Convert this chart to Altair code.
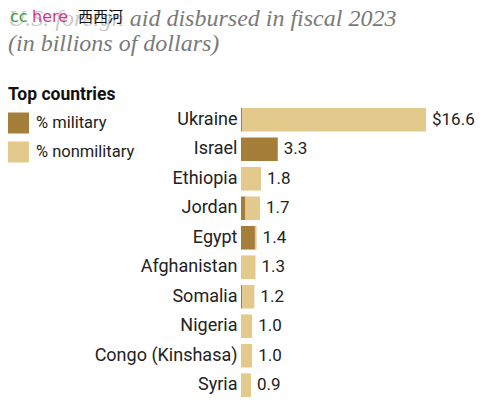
import altair as alt
import pandas as pd

countries = ["Ukraine", "Israel", "Ethiopia", "Jordan", "Egypt", "Afghanistan",
             "Somalia", "Nigeria", "Congo (Kinshasa)", "Syria"]
totals = [16.6, 3.3, 1.8, 1.7, 1.4, 1.3, 1.2, 1.0, 1.0, 0.9]
military = [0.1, 3.3, 0.0, 0.4, 1.25, 0.0, 0.1, 0.0, 0.0, 0.0]
value_labels = ["$16.6", "3.3", "1.8", "1.7", "1.4", "1.3", "1.2", "1.0", "1.0", "0.9"]
types = ["% military", "% nonmilitary"]
colors = ["#a57f3a", "#e3c98c"]
title_lines = ["U.S. foreign aid disbursed in fiscal 2023", "(in billions of dollars)"]

rows = []
for c, t, m in zip(countries, totals, military):
    rows.append({"country": c, "type": types[0], "value": m, "ord": 0})
    rows.append({"country": c, "type": types[1], "value": round(t - m, 3), "ord": 1})
df = pd.DataFrame(rows)
df_tot = pd.DataFrame({"country": countries, "total": totals, "label": value_labels})

FONT = "Roboto"

yenc = alt.Y("country:N", sort=countries, title=None,
             scale=alt.Scale(paddingInner=0.2, paddingOuter=0),
             axis=alt.Axis(domain=False, ticks=False, labelPadding=4, labelFont=FONT,
                           labelFontSize=18, labelColor="#222", labelLimit=300))
xscale = alt.Scale(domain=[0, 16.6], nice=False, zero=True)

bars = alt.Chart(df).mark_bar().encode(
    y=yenc,
    x=alt.X("value:Q", stack="zero", scale=xscale, axis=None),
    color=alt.Color("type:N", scale=alt.Scale(domain=types, range=colors),
                    legend=alt.Legend(orient="none", legendX=-233, legendY=-22,
                                      title="Top countries", titleFont=FONT,
                                      titleFontSize=17.5, titleFontWeight="bold",
                                      titleColor="#111", titlePadding=9,
                                      symbolType="square", symbolSize=441,
                                      symbolStrokeWidth=0, symbolOpacity=1,
                                      labelFont=FONT, labelFontSize=16.5,
                                      labelColor="#222", labelOffset=7, rowPadding=8)),
    order=alt.Order("ord:Q"),
)

text = alt.Chart(df_tot).mark_text(align="left", baseline="middle", dx=6,
                                   font=FONT, fontSize=17, color="#222").encode(
    y=alt.Y("country:N", sort=countries),
    x=alt.X("total:Q", scale=xscale),
    text="label:N",
)

one = pd.DataFrame({"t": ["x"]})
title1 = alt.Chart(one).mark_text(text=title_lines[0], align="left", baseline="alphabetic",
                                  font="Liberation Serif", fontStyle="italic", fontSize=24,
                                  color="#7a7a7a").encode(x=alt.value(-233), y=alt.value(-82))
title2 = alt.Chart(one).mark_text(text=title_lines[1], align="left", baseline="alphabetic",
                                  font="Liberation Serif", fontStyle="italic", fontSize=24,
                                  color="#7a7a7a").encode(x=alt.value(-233), y=alt.value(-57))
fade = alt.Chart(one).mark_rect(color="white", opacity=0.6).encode(
    x=alt.value(-233), x2=alt.value(-112), y=alt.value(-100), y2=alt.value(-76))
wm1 = alt.Chart(one).mark_text(text="cc", align="left", baseline="alphabetic",
                               font="DejaVu Sans", fontSize=16,
                               color="#3c9a3c").encode(x=alt.value(-231), y=alt.value(-86))
wm2 = alt.Chart(one).mark_text(text="here", align="left", baseline="alphabetic",
                               font="DejaVu Sans", fontSize=16,
                               color="#d43a86").encode(x=alt.value(-209), y=alt.value(-86))
wm3 = alt.Chart(one).mark_text(text="西西河", align="left", baseline="alphabetic",
                               font="Noto Sans CJK SC", fontSize=15,
                               color="#111").encode(x=alt.value(-163), y=alt.value(-86))

chart = alt.layer(bars, text, title1, title2, fade, wm1, wm2, wm3).properties(
    width=185, height=289,
    autosize=alt.AutoSizeParams(type="none"),
    padding={"left": 233, "top": 100, "right": 51, "bottom": 0},
).configure_view(stroke=None)

chart.save("out.html", embed_options={"renderer": "svg", "actions": False})
